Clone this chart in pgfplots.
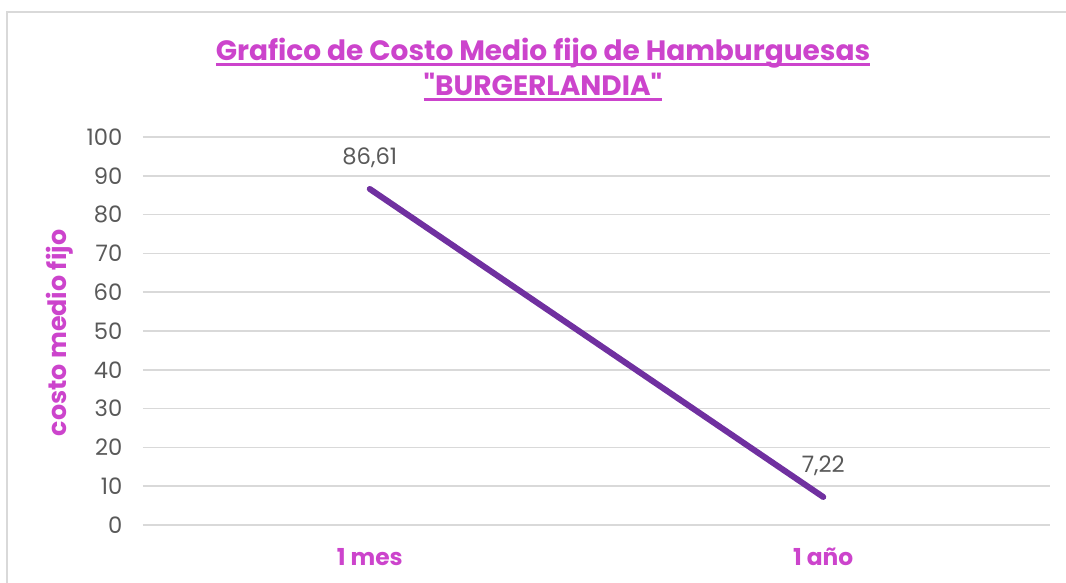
\documentclass[border=0pt]{standalone}
\usepackage{pgfplots}
\pgfplotsset{compat=1.18}
\usepackage{fontspec}
\setmainfont{Poppins}
\definecolor{titlec}{HTML}{CC44CC}
\definecolor{linec}{HTML}{7030A0}
\definecolor{tickc}{HTML}{595959}
\definecolor{gridc}{HTML}{D9D9D9}
\newcommand\ul[1]{\setbox0=\hbox{#1}\rlap{\rule[-4.2pt]{\wd0}{2pt}}\box0}
\begin{document}
\begin{tikzpicture}
\useasboundingbox (-107.25pt,-42.75pt) rectangle (692.25pt,393.75pt);
\draw[gridc, line width=1.2pt] (-102pt,-60pt) -- (-102pt,384.75pt) -- (720pt,384.75pt);
\begin{axis}[
  at={(0,0)}, anchor=south west, scale only axis,
  width=680.25pt, height=291pt,
  xmin=-0.5, xmax=1.5, ymin=0, ymax=100,
  ytick={0,10,...,100}, xtick={0,1}, xticklabels={1 mes,1 año},
  axis line style={draw=none}, major tick style={draw=none},
  ymajorgrids, grid style={gridc, line width=1.1pt},
  clip=false,
  /pgf/number format/assume math mode=true,
  yticklabel style={font=\fontsize{17}{20}\selectfont, text=tickc, xshift=-12pt},
  xticklabel style={font=\bfseries\fontsize{17.5}{20}\selectfont, text=titlec, yshift=-14pt},
  ylabel={costo medio fijo},
  ylabel style={at={(axis description cs:-0.0915,0.495)}, anchor=center, font=\bfseries\fontsize{19}{22}\selectfont, text=titlec},
  title={\ul{Grafico de Costo Medio fijo de Hamburguesas}\\\ul{\textquotedbl BURGERLANDIA\textquotedbl}},
  title style={at={(axis description cs:0.441,1.153)}, anchor=center, align=center, font=\bfseries\fontsize{21}{26.25}\selectfont, color=titlec},
  nodes near coords, point meta=explicit symbolic,
  every node near coord/.append style={font=\fontsize{17}{20}\selectfont, text=tickc, anchor=south, yshift=10pt},
]
\addplot[linec, line width=4.5pt, line cap=round, mark=none] coordinates {(0,86.61) [86,61] (1,7.22) [7,22]};
\end{axis}
\end{tikzpicture}
\end{document}
